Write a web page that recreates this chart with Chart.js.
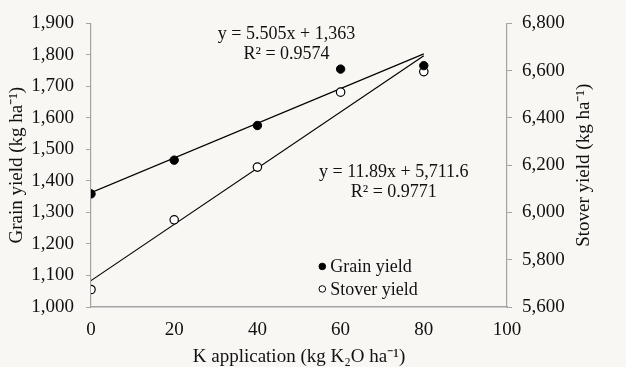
<!DOCTYPE html>
<html lang="en">
<head>
  <meta charset="UTF-8">
  <title>Grain and stover yield vs K application</title>
  <script src="https://cdn.jsdelivr.net/npm/chart.js"></script>
  <style>
    html, body { margin: 0; padding: 0; background: #f9f7f3; }
    #wrap { width: 626px; height: 367px; position: relative; }
  </style>
</head>
<body>
  <div id="wrap"><canvas id="grafico"></canvas></div>
  <script>
    // dados
    const doses = [0, 20, 40, 60, 80];
    const grainYield = [1359, 1466, 1576, 1755, 1766];
    const stoverYield = [5674, 5969, 6192, 6509, 6596];

    // linhas de tendencia (extremos x = 0 e x = 80)
    const trendX = [0, 80];
    const grainTrend = [1363, 1803.4];
    const stoverTrend = [5711.6, 6662.8];

    const equacoes = [
      { lines: ['y = 5.505x + 1,363', 'R² = 0.9574'], x: 47, y: 1866, axis: 'y' },
      { lines: ['y = 11.89x + 5,711.6', 'R² = 0.9771'], x: 72.8, y: 6168, axis: 'y1' }
    ];

    const tituloDireita = 'Stover yield (kg ha⁻¹)';

    const serif = '"Liberation Serif", "Times New Roman", serif';
    const corTexto = '#111';
    const corEixo = '#a3a3a3';

    function pts(xs, ys) {
      return xs.map((x, i) => ({ x: x, y: ys[i] }));
    }

    const pluginTextos = {
      id: 'textos',
      afterDatasetsDraw(chart) {
        const ctx = chart.ctx;
        const sx = chart.scales.x;
        const ca = chart.chartArea;
        ctx.save();
        ctx.font = '18px ' + serif;
        ctx.fillStyle = corTexto;
        ctx.textAlign = 'center';
        ctx.textBaseline = 'middle';
        equacoes.forEach(eq => {
          const px = sx.getPixelForValue(eq.x);
          const py = chart.scales[eq.axis].getPixelForValue(eq.y);
          eq.lines.forEach((t, i) => ctx.fillText(t, px, py + i * 20));
        });

        // legenda dentro da area do grafico
        const lx = ca.left + 0.556 * (ca.right - ca.left);
        const ly = ca.top + 0.857 * (ca.bottom - ca.top);
        const itens = [chart.data.datasets[0], chart.data.datasets[1]];
        ctx.textAlign = 'left';
        itens.forEach((ds, i) => {
          const y = ly + i * 22.5;
          ctx.beginPath();
          ctx.arc(lx, y, 3.3, 0, Math.PI * 2);
          ctx.fillStyle = ds.backgroundColor;
          ctx.fill();
          ctx.lineWidth = 1;
          ctx.strokeStyle = '#000';
          ctx.stroke();
          ctx.fillStyle = corTexto;
          ctx.fillText(ds.label, lx + 8, y + 1);
        });

        // titulo do eixo direito, lido de baixo para cima
        const s1 = chart.scales.y1;
        ctx.font = '19px ' + serif;
        ctx.textAlign = 'center';
        ctx.translate(s1.right - 42, (ca.top + ca.bottom) / 2);
        ctx.rotate(-Math.PI / 2);
        ctx.fillText(tituloDireita, 0, 0);
        ctx.restore();
      }
    };

    const fmt = v => v.toLocaleString('en-US');
    const fonteEixo = { family: serif, size: 19 };

    new Chart(document.getElementById('grafico'), {
      type: 'scatter',
      data: {
        datasets: [
          {
            label: 'Grain yield',
            data: pts(doses, grainYield),
            yAxisID: 'y',
            backgroundColor: '#000',
            borderColor: '#000',
            pointRadius: 4.2,
            pointBorderWidth: 1,
            order: 0
          },
          {
            label: 'Stover yield',
            data: pts(doses, stoverYield),
            yAxisID: 'y1',
            backgroundColor: '#fff',
            borderColor: '#000',
            pointRadius: 4.2,
            pointBorderWidth: 1.2,
            order: 0
          },
          {
            label: 'grain trend',
            data: pts(trendX, grainTrend),
            yAxisID: 'y',
            showLine: true,
            borderColor: '#000',
            borderWidth: 1.2,
            pointRadius: 0,
            order: 1
          },
          {
            label: 'stover trend',
            data: pts(trendX, stoverTrend),
            yAxisID: 'y1',
            showLine: true,
            borderColor: '#000',
            borderWidth: 1.2,
            pointRadius: 0,
            order: 1
          }
        ]
      },
      options: {
        responsive: true,
        maintainAspectRatio: false,
        animation: false,
        layout: { padding: { top: 21, left: 0, right: 0, bottom: 0 } },
        plugins: {
          legend: { display: false },
          tooltip: { enabled: false }
        },
        scales: {
          x: {
            type: 'linear',
            min: 0,
            max: 100,
            ticks: { stepSize: 20, color: corTexto, font: fonteEixo, padding: 7 },
            grid: { display: false, drawOnChartArea: false, drawTicks: true, tickLength: 5, color: corEixo },
            border: { color: corEixo, width: 1.5 },
            title: {
              display: true,
              text: 'K application (kg K₂O ha⁻¹)',
              color: corTexto,
              font: fonteEixo,
              padding: { top: 0, bottom: -1 }
            },
            afterFit: s => { s.height = 60; }
          },
          y: {
            position: 'left',
            min: 1000,
            max: 1900,
            ticks: { stepSize: 100, color: corTexto, font: fonteEixo, padding: 12, callback: fmt },
            grid: { drawOnChartArea: false, tickLength: 5, color: corEixo },
            border: { color: corEixo, width: 1.2 },
            title: {
              display: true,
              text: 'Grain yield (kg ha⁻¹)',
              color: corTexto,
              font: fonteEixo,
              padding: { top: 6, bottom: 0 }
            },
            afterFit: s => { s.width = 91; }
          },
          y1: {
            position: 'right',
            min: 5600,
            max: 6800,
            ticks: { stepSize: 200, color: corTexto, font: fonteEixo, padding: 10, callback: fmt },
            grid: { drawOnChartArea: false, tickLength: 5, color: corEixo },
            border: { color: corEixo, width: 1.2 },
            title: { display: false },
            afterFit: s => { s.width = 119; }
          }
        }
      },
      plugins: [pluginTextos]
    });
  </script>
</body>
</html>
